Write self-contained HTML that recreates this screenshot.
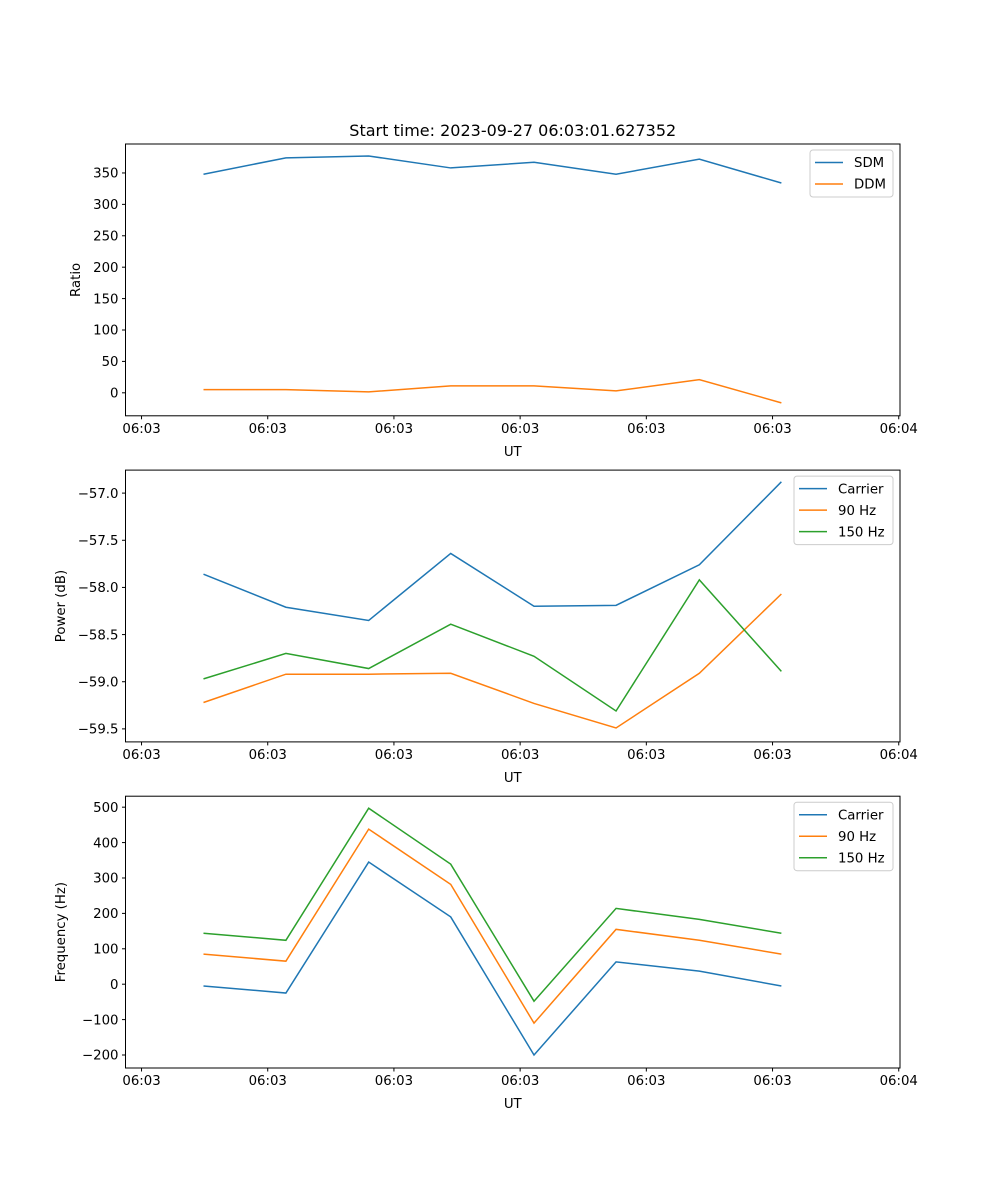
<!DOCTYPE html>
<html><head><meta charset="utf-8"><style>
body{margin:0;background:#fff}
svg{display:block;font-family:"DejaVu Sans","Liberation Sans",sans-serif}
</style></head><body>
<svg id="fig" width="1000" height="1200" viewBox="0 0 1000 1200" xmlns="http://www.w3.org/2000/svg"></svg>
<script>
const times = [4.91, 11.44, 18.0, 24.5, 31.1, 37.6, 44.2, 50.7];
const xTickVals = [0, 10, 20, 30, 40, 50, 60];
const xTickLabels = ["06:03","06:03","06:03","06:03","06:03","06:03","06:04"];
const sdm = [348, 374, 377, 358, 367, 348, 372, 334];
const ddm = [5, 5, 1.5, 11, 11, 3, 21, -16];
const pCarrier = [-57.86, -58.21, -58.35, -57.64, -58.20, -58.19, -57.76, -56.88];
const p90 = [-59.22, -58.92, -58.92, -58.91, -59.23, -59.49, -58.91, -58.07];
const p150 = [-58.97, -58.70, -58.86, -58.39, -58.73, -59.31, -57.92, -58.89];
const fCarrier = [-5, -25, 345, 190, -200, 63, 37, -5];
const f90 = [85, 65, 438, 282, -110, 155, 124, 85];
const f150 = [144, 124, 497, 339, -48, 214, 183, 144];
const ticks1 = [0, 50, 100, 150, 200, 250, 300, 350];
const ticks2 = [-59.5, -59.0, -58.5, -58.0, -57.5, -57.0];
const ticks3 = [-200, -100, 0, 100, 200, 300, 400, 500];

const NS = "http://www.w3.org/2000/svg";
const svg = document.getElementById("fig");
function mk(tag, attrs, parent, text){
  const e = document.createElementNS(NS, tag);
  for (const k in attrs) e.setAttribute(k, attrs[k]);
  if (text !== undefined) e.textContent = text;
  (parent || svg).appendChild(e);
  return e;
}
const C = ["#1f77b4", "#ff7f0e", "#2ca02c"];
const L = 125.5, R = 900, XMIN = -1.27, XMAX = 60.1;
const xs = v => L + (v - XMIN) / (XMAX - XMIN) * (R - L);

function panel(name, top, bot, ymin, ymax, ticks, fmt, ylabel, series, names, legW, title){
  const g = mk("g", {});
  
  
  const ys = v => bot - (v - ymin) / (ymax - ymin) * (bot - top);
  series.forEach((s, i) => {
    const pts = s.map((v, j) => xs(times[j]).toFixed(2) + "," + ys(v).toFixed(2)).join(" ");
    const pl = mk("polyline", {points: pts, fill: "none", stroke: C[i], "stroke-width": 1.5}, g);
    
    
  });
  const frame = mk("rect", {x: L, y: top, width: R - L, height: bot - top, fill: "none", stroke: "#000", "stroke-width": 1}, g);
  
  
  xTickVals.forEach((v, i) => {
    const x = xs(v);
    mk("line", {x1: x, x2: x, y1: bot, y2: bot + 3.5, stroke: "#000"}, g);
    const t = mk("text", {x: x, y: bot + 17, "font-size": 13.3, "text-anchor": "middle"}, g, xTickLabels[i]);
    
    
  });
  ticks.forEach(v => {
    const y = ys(v);
    mk("line", {x1: L - 3.5, x2: L, y1: y, y2: y, stroke: "#000"}, g);
    const t = mk("text", {x: L - 7, y: y + 4.7, "font-size": 13.3, "text-anchor": "end"}, g, fmt(v).replace("-", "\u2212"));
    
    
  });
  const xl = mk("text", {x: (L + R) / 2, y: bot + 40, "font-size": 13.3, "text-anchor": "middle"}, g, "UT");
  
  
  const ylx = ylabel === "Ratio" ? 80 : 65;
  const yl = mk("text", {x: ylx, y: (top + bot) / 2, "font-size": 13.3, "text-anchor": "middle", transform: `rotate(-90 ${ylx} ${(top + bot) / 2})`}, g, ylabel);
  
  
  if (title) {
    const tt = mk("text", {x: (L + R) / 2, y: top - 8, "font-size": 16, "text-anchor": "middle"}, g, title);
    
    
  }
  const lg = mk("g", {}, g);
  
  
  const lx = 893 - legW, ly = top + 6;
  mk("rect", {x: lx, y: ly, width: legW, height: 4 + names.length * 21.5, rx: 3, fill: "#fff", "fill-opacity": 0.8, stroke: "#ccc"}, lg);
  names.forEach((n, i) => {
    const y = ly + 12.5 + i * 21.5;
    mk("line", {x1: lx + 5, x2: lx + 33, y1: y, y2: y, stroke: C[i], "stroke-width": 1.5}, lg);
    const t = mk("text", {x: lx + 44, y: y + 4.7, "font-size": 13.3}, lg, n);
    
    
  });
}
panel("ratio-panel", 144, 415.8, -36.6, 396.1, ticks1, v => String(v), "Ratio", [sdm, ddm], ["SDM", "DDM"], 83, "Start time: 2023-09-27 06:03:01.627352");
panel("power-panel", 470.1, 741.9, -59.638, -56.756, ticks2, v => v.toFixed(1), "Power (dB)", [pCarrier, p90, p150], ["Carrier", "90 Hz", "150 Hz"], 99);
panel("frequency-panel", 796.2, 1068, -236.7, 531, ticks3, v => String(v), "Frequency (Hz)", [fCarrier, f90, f150], ["Carrier", "90 Hz", "150 Hz"], 99);
</script>
</body></html>
